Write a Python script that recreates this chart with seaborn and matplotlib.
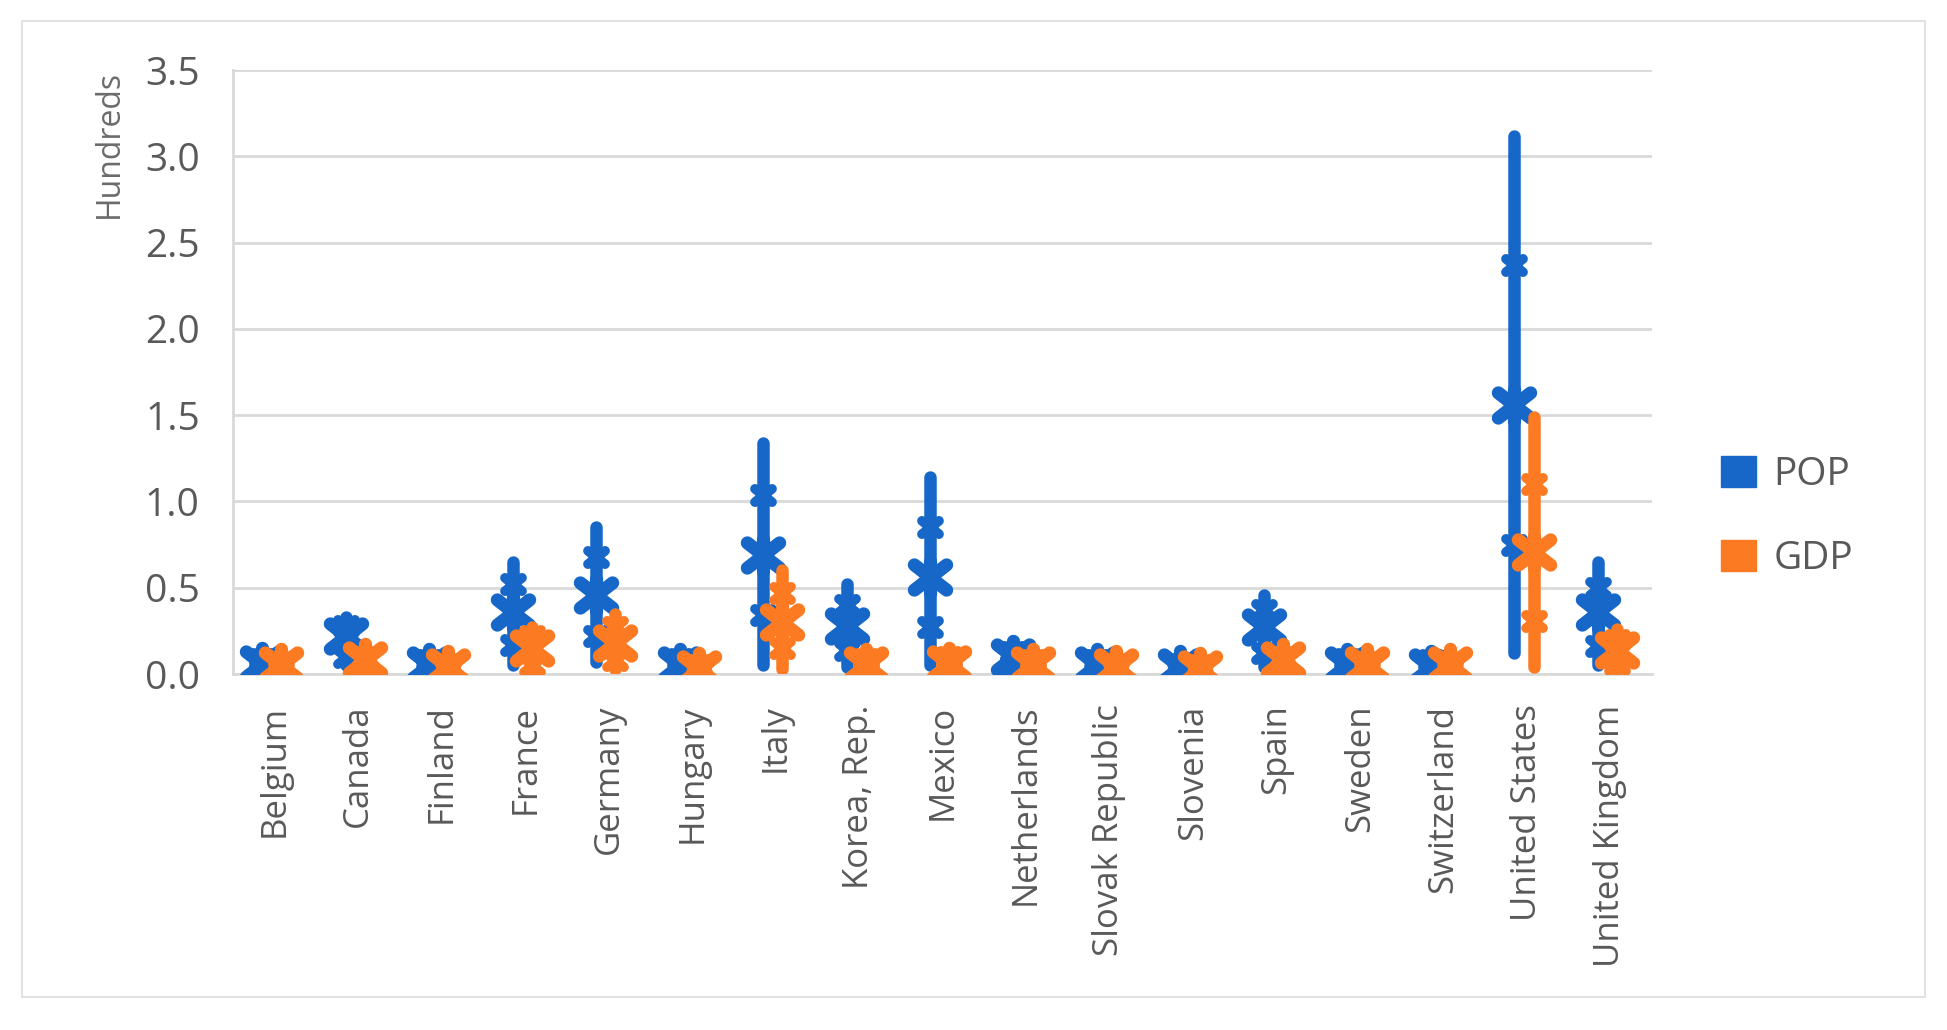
import numpy as np
import pandas as pd
import matplotlib
matplotlib.use("Agg")
import matplotlib.pyplot as plt
import seaborn as sns
from matplotlib.path import Path
from matplotlib.markers import MarkerStyle
from matplotlib.patches import Patch, Rectangle

# values in hundreds
countries = ["Belgium", "Canada", "Finland", "France", "Germany", "Hungary", "Italy",
             "Korea, Rep.", "Mexico", "Netherlands", "Slovak Republic", "Slovenia",
             "Spain", "Sweden", "Switzerland", "United States", "United Kingdom"]

pop_low  = [0.00, 0.05, 0.00, 0.05, 0.07, 0.00, 0.05, 0.04, 0.05, 0.02, 0.00, 0.00, 0.04, 0.00, 0.00, 0.12, 0.05]
pop_q1   = [0.03, 0.10, 0.03, 0.17, 0.22, 0.03, 0.34, 0.14, 0.27, 0.05, 0.03, 0.02, 0.12, 0.03, 0.03, 0.75, 0.16]
pop_mid  = [0.06, 0.22, 0.05, 0.36, 0.46, 0.05, 0.69, 0.28, 0.56, 0.10, 0.05, 0.04, 0.27, 0.05, 0.04, 1.56, 0.36]
pop_q3   = [0.09, 0.28, 0.08, 0.52, 0.68, 0.09, 1.04, 0.40, 0.85, 0.13, 0.08, 0.06, 0.37, 0.09, 0.08, 2.37, 0.50]
pop_high = [0.11, 0.33, 0.10, 0.65, 0.85, 0.12, 1.34, 0.52, 1.14, 0.15, 0.10, 0.08, 0.46, 0.12, 0.10, 3.12, 0.65]

gdp_low  = [0.00, 0.00, 0.00, 0.01, 0.03, 0.00, 0.03, 0.00, 0.00, 0.00, 0.00, 0.00, 0.00, 0.00, 0.00, 0.04, 0.01]
gdp_q1   = [0.02, 0.02, 0.02, 0.05, 0.08, 0.01, 0.15, 0.02, 0.02, 0.02, 0.02, 0.01, 0.02, 0.02, 0.02, 0.31, 0.06]
gdp_mid  = [0.05, 0.08, 0.04, 0.15, 0.18, 0.03, 0.30, 0.05, 0.06, 0.05, 0.04, 0.03, 0.08, 0.05, 0.05, 0.71, 0.14]
gdp_q3   = [0.07, 0.10, 0.06, 0.22, 0.27, 0.05, 0.47, 0.09, 0.10, 0.08, 0.06, 0.05, 0.10, 0.07, 0.07, 1.10, 0.20]
gdp_high = [0.09, 0.12, 0.08, 0.27, 0.35, 0.07, 0.60, 0.12, 0.13, 0.10, 0.08, 0.07, 0.13, 0.09, 0.09, 1.49, 0.26]

series_names = ["POP", "GDP"]
y_ticks = [0.0, 0.5, 1.0, 1.5, 2.0, 2.5, 3.0, 3.5]

BLUE = "#1767C8"
ORANGE = "#FC7A22"
TEXT = "#595959"
GRID = "#D9D9D9"

sns.set_style("white")
plt.rcParams["font.family"] = ["Open Sans", "DejaVu Sans"]

# excel-like star marker: x with a vertical bar
star_verts = [(0, 0), (0, 1), (0, 0), (0, -1), (0, 0), (1, 0.78), (0, 0), (-1, 0.78),
              (0, 0), (1, -0.78), (0, 0), (-1, -0.78)]
star_codes = [Path.MOVETO, Path.LINETO] * 6
star = MarkerStyle(Path(star_verts, star_codes))

fig = plt.figure(figsize=(19.47, 10.30), dpi=100)
ax = fig.add_axes([0.1197, 0.3456, 0.7288, 0.5864])

idx = np.arange(len(countries))
series = [
    ("POP", BLUE, -0.15, pop_low, pop_q1, pop_mid, pop_q3, pop_high),
    ("GDP", ORANGE, 0.08, gdp_low, gdp_q1, gdp_mid, gdp_q3, gdp_high),
]

z = 3
for name, color, off, lo, q1, mid, q3, hi in series:
    xs = idx + off
    ax.vlines(xs, lo, hi, colors=color, linewidth=9, capstyle="round", zorder=z)
    quart = pd.DataFrame({"x": np.concatenate([xs, xs]), "v": q1 + q3})
    sns.scatterplot(data=quart, x="x", y="v", marker=star, s=150, color=color,
                    edgecolor=color, linewidth=7, ax=ax, zorder=z + 1, legend=False)
    ax.collections[-1].set_capstyle("round")
    mids = pd.DataFrame({"x": xs, "v": mid})
    sns.scatterplot(data=mids, x="x", y="v", marker=star, s=540, color=color,
                    edgecolor=color, linewidth=9.5, ax=ax, zorder=z + 2, legend=False)
    ax.collections[-1].set_capstyle("round")
    z += 3

ax.set_xlim(-0.5, len(countries) - 0.5)
ax.set_ylim(0, 3.5)
ax.set_yticks(y_ticks)
ax.set_yticklabels([f"{t:.1f}" for t in y_ticks])
ax.set_xticks(idx)
ax.set_xticklabels(countries, rotation=90, va="top", ha="center")
ax.set_xlabel("")
ax.set_ylabel("Hundreds", fontsize=23, color="#6B6B6B", loc="top")
ax.yaxis.label.set_va("center")
ax.yaxis.set_label_coords(-0.087, 1.0)

ax.grid(axis="y", color=GRID, linewidth=2, zorder=0)
ax.set_axisbelow(True)
for s in ["top", "right"]:
    ax.spines[s].set_visible(False)
for s in ["left", "bottom"]:
    ax.spines[s].set_color(GRID)
    ax.spines[s].set_linewidth(2)
ax.tick_params(axis="y", length=8, width=2, color=GRID, pad=16, labelsize=28, labelcolor=TEXT)
ax.tick_params(axis="x", length=0, pad=22, labelsize=25, labelcolor=TEXT)

handles = [Patch(facecolor=BLUE, edgecolor=BLUE), Patch(facecolor=ORANGE, edgecolor=ORANGE)]
fig.legend(handles, series_names, loc="center left", bbox_to_anchor=(0.884, 0.498),
           frameon=False, fontsize=28, labelcolor=TEXT, handlelength=0.9,
           handleheight=0.85, handletextpad=0.45, labelspacing=1.2,
           borderpad=0, borderaxespad=0)

fig.patches.append(Rectangle((0.0113, 0.032), 0.9774, 0.9476, transform=fig.transFigure,
                             fill=False, edgecolor="#E2E2E2", linewidth=1.5))

fig.savefig("out.png", dpi=100, facecolor="white")
